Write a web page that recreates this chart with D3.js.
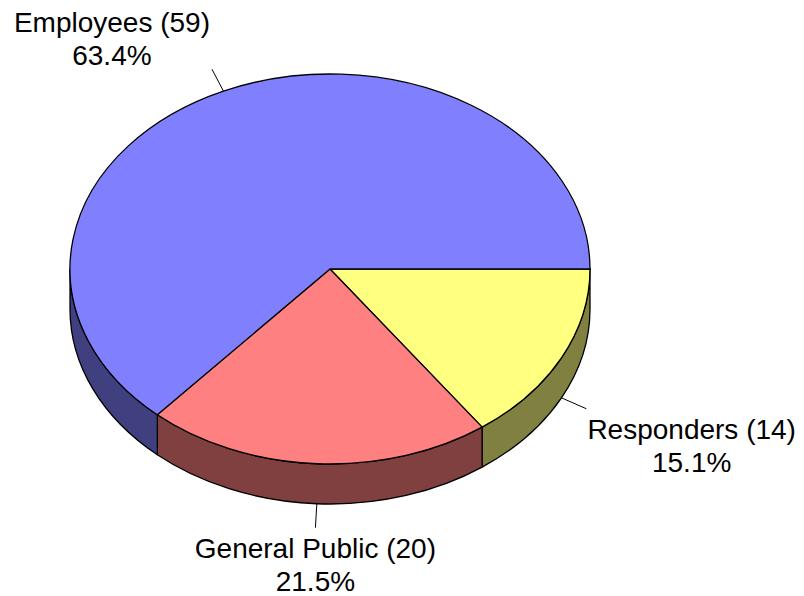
<!DOCTYPE html>
<html>
<head>
<meta charset="utf-8">
<script src="https://cdn.jsdelivr.net/npm/d3@7"></script>
<style>
  html, body { margin: 0; padding: 0; background: #fff; }
  svg { display: block; }
  text { font-family: "Liberation Sans", Arial, sans-serif; font-size: 28px; fill: #000; }
</style>
</head>
<body>
<script>
// Respondent groups and their counts, in clockwise order from 3 o'clock
const categories = ["Responders", "General Public", "Employees"];
const counts = [14, 20, 59];

const width = 804, height = 596;
const cx = 330, cy = 269;      // centre of the top face
const rx = 260, ry = 195;      // ellipse radii of the tilted disc
const depth = 40;              // thickness of the disc wall

const topColor = d3.scaleOrdinal().domain(categories)
  .range(["#FFFF80", "#FF8080", "#8080FF"]);
const sideColor = d3.scaleOrdinal().domain(categories)
  .range(["#808040", "#804040", "#404080"]);

const total = d3.sum(counts);
const pct = d3.format(".1%");
const data = categories.map((c, i) => ({ category: c, count: counts[i] }));

// d3.pie measures from 12 o'clock; start a quarter turn later so the first slice begins at 3 o'clock
const pie = d3.pie().sort(null).value(d => d.count)
  .startAngle(Math.PI / 2).endAngle(Math.PI / 2 + 2 * Math.PI);
const arcs = pie(data).map(a => ({
  ...a,
  t1: a.startAngle - Math.PI / 2,
  t2: a.endAngle - Math.PI / 2
}));

const pt = (t, dy = 0) => [cx + rx * Math.cos(t), cy + ry * Math.sin(t) + dy];
const fmt = p => `${p[0].toFixed(2)},${p[1].toFixed(2)}`;

const svg = d3.select("body").append("svg")
  .attr("width", width).attr("height", height);
svg.append("rect").attr("width", width).attr("height", height).attr("fill", "#fff");

// Outer wall: only the front half of the disc (screen angles 0..π) is visible
const sides = arcs.map(a => {
  const s = Math.max(a.t1, 0), e = Math.min(a.t2, Math.PI);
  return s < e ? { ...a, s, e } : null;
}).filter(Boolean);

svg.append("g").selectAll("path").data(sides).join("path")
  .attr("d", d => {
    const large = d.e - d.s > Math.PI ? 1 : 0;
    return `M${fmt(pt(d.s))} A${rx},${ry} 0 ${large} 1 ${fmt(pt(d.e))}` +
      ` L${fmt(pt(d.e, depth))} A${rx},${ry} 0 ${large} 0 ${fmt(pt(d.s, depth))} Z`;
  })
  .attr("fill", d => sideColor(d.data.category))
  .attr("stroke", "#000").attr("stroke-width", 1.3).attr("stroke-linejoin", "round");

// Top faces
svg.append("g").selectAll("path").data(arcs).join("path")
  .attr("d", d => {
    const large = d.t2 - d.t1 > Math.PI ? 1 : 0;
    return `M${cx},${cy} L${fmt(pt(d.t1))} A${rx},${ry} 0 ${large} 1 ${fmt(pt(d.t2))} Z`;
  })
  .attr("fill", d => topColor(d.data.category))
  .attr("stroke", "#000").attr("stroke-width", 1.3).attr("stroke-linejoin", "round");

// Leader lines and labels
const labels = svg.append("g");
arcs.forEach(a => {
  const t = (a.t1 + a.t2) / 2;
  const ux = Math.cos(t), uy = Math.sin(t);
  const front = uy > 0;
  const start = pt(t, front ? depth : 0);
  const end = [start[0] + ux * 28, start[1] + uy * 24];

  labels.append("line")
    .attr("x1", start[0]).attr("y1", start[1])
    .attr("x2", end[0]).attr("y2", end[1])
    .attr("stroke", "#000").attr("stroke-width", 1);

  const g = labels.append("g");
  const l1 = g.append("text").attr("text-anchor", "middle")
    .text(`${a.data.category} (${a.data.count})`);
  const l2 = g.append("text").attr("text-anchor", "middle")
    .text(pct(a.data.count / total));
  const w = Math.max(l1.node().getComputedTextLength(), l2.node().getComputedTextLength());

  let x = end[0];
  if (ux > 0.3) x = end[0] + 1 + w / 2;
  else if (ux < -0.3) x = end[0] - 2 - w / 2;
  const base = uy < -0.3 ? end[1] - 3 - 34 : end[1] + 30;

  l1.attr("x", x).attr("y", base);
  l2.attr("x", x).attr("y", base + 33);
});
</script>
</body>
</html>
